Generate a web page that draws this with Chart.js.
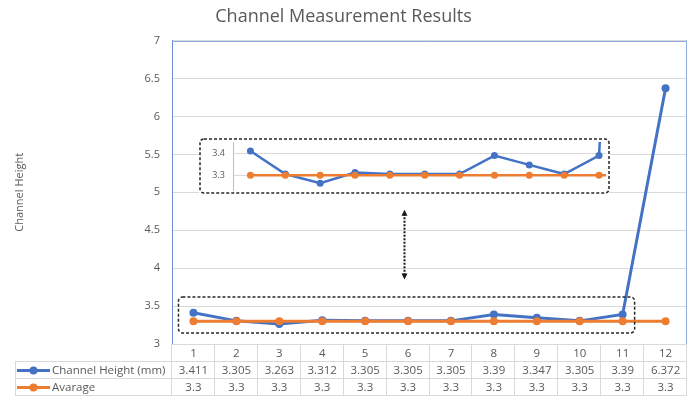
<!DOCTYPE html>
<html>
<head>
<meta charset="utf-8">
<script src="https://cdn.jsdelivr.net/npm/chart.js@4/dist/chart.umd.min.js"></script>
<style>
  html, body { margin: 0; padding: 0; background: #fff; }
  #wrap { position: relative; width: 693px; height: 396px; overflow: hidden; }
  #main { position: absolute; left: 0; top: 0; }
  #zoom { position: absolute; left: 199px; top: 138px; }
</style>
</head>
<body>
<div id="wrap">
  <canvas id="main" width="693" height="396"></canvas>
  <canvas id="zoom" width="411" height="56"></canvas>
</div>
<script>
// Measurement data
const categories = ['1', '2', '3', '4', '5', '6', '7', '8', '9', '10', '11', '12'];
const channelHeight = [3.411, 3.305, 3.263, 3.312, 3.305, 3.305, 3.305, 3.39, 3.347, 3.305, 3.39, 6.372];
const average = [3.3, 3.3, 3.3, 3.3, 3.3, 3.3, 3.3, 3.3, 3.3, 3.3, 3.3, 3.3];
const seriesNames = ['Channel Height (mm)', 'Avarage'];
const chartTitle = 'Channel Measurement Results';
const yAxisTitle = 'Channel Height';
const yRange = { min: 3, max: 7, step: 0.5 };
const zoomRange = { min: 3.232, max: 3.452 };
const zoomTicks = [3.3, 3.4];

const BLUE = '#4472C4';
const ORANGE = '#ED7D31';
const TEXT = '#595959';
const GRID = '#D9D9D9';
const FONT = "'Open Sans', 'Liberation Sans', sans-serif";

Chart.defaults.font.family = FONT;
Chart.defaults.color = TEXT;

const plainNumber = v => String(+Number(v).toFixed(3));

// rounded dashed rectangle helper
function dashedBox(ctx, x0, y0, x1, y1, r) {
  ctx.save();
  ctx.strokeStyle = '#262626';
  ctx.lineWidth = 1.5;
  ctx.setLineDash([3, 2]);
  ctx.beginPath();
  ctx.roundRect(x0, y0, x1 - x0, y1 - y0, r);
  ctx.stroke();
  ctx.restore();
}

// Plot frame, highlight box and arrow on the main chart
const framePlugin = {
  id: 'frame',
  beforeDatasetsDraw(chart) {
    const { ctx, chartArea: a } = chart;
    ctx.save();
    ctx.strokeStyle = '#8FAADC';
    ctx.lineWidth = 1;
    ctx.beginPath();
    ctx.moveTo(a.left, Math.round(a.top) + 0.5);
    ctx.lineTo(a.right, Math.round(a.top) + 0.5);
    ctx.moveTo(Math.round(a.right) - 0.5, a.top);
    ctx.lineTo(Math.round(a.right) - 0.5, a.bottom);
    ctx.stroke();
    ctx.restore();
  },
  afterDatasetsDraw(chart) {
    const { ctx, scales: { x, y } } = chart;
    // box round the near-average section
    dashedBox(ctx, x.getPixelForValue(0) - 15, y.getPixelForValue(3.62),
              x.getPixelForValue(10) + 12, y.getPixelForValue(3.145), 4);
    // double arrow linking the box to the magnified view
    const ax = Math.round(x.getPixelForValue(4.9)) + 0.5;
    const top = y.getPixelForValue(4.77);
    const bot = y.getPixelForValue(3.85);
    ctx.save();
    ctx.strokeStyle = '#1a1a1a';
    ctx.fillStyle = '#1a1a1a';
    ctx.lineWidth = 2;
    ctx.setLineDash([2, 1.5]);
    ctx.beginPath();
    ctx.moveTo(ax, top + 4);
    ctx.lineTo(ax, bot - 4);
    ctx.stroke();
    ctx.setLineDash([]);
    ctx.beginPath();
    ctx.moveTo(ax, top); ctx.lineTo(ax - 3, top + 6); ctx.lineTo(ax + 3, top + 6); ctx.closePath();
    ctx.moveTo(ax, bot); ctx.lineTo(ax - 3, bot - 6); ctx.lineTo(ax + 3, bot - 6); ctx.closePath();
    ctx.fill();
    ctx.restore();
  }
};

// Data table under the plot with series keys
const tablePlugin = {
  id: 'dataTable',
  afterDraw(chart) {
    const { ctx, chartArea: a } = chart;
    const rowH = 17;
    const top = Math.round(a.bottom);
    const labelLeft = 15;
    const colW = (a.right - a.left) / categories.length;
    ctx.save();
    ctx.strokeStyle = GRID;
    ctx.lineWidth = 1;
    ctx.beginPath();
    ctx.moveTo(a.left, top + 0.5);
    ctx.lineTo(a.right, top + 0.5);
    for (let r = 1; r <= 3; r++) {
      const yy = top + r * rowH + 0.5;
      ctx.moveTo(labelLeft, yy);
      ctx.lineTo(a.right, yy);
    }
    for (let i = 0; i <= categories.length; i++) {
      const xx = Math.round(a.left + i * colW) - 0.5;
      ctx.moveTo(xx, top);
      ctx.lineTo(xx, top + 3 * rowH);
    }
    ctx.moveTo(labelLeft + 0.5, top + rowH);
    ctx.lineTo(labelLeft + 0.5, top + 3 * rowH);
    ctx.stroke();

    ctx.font = '11.5px ' + FONT;
    ctx.fillStyle = TEXT;
    ctx.textAlign = 'center';
    ctx.textBaseline = 'middle';
    const rows = [categories, channelHeight, average];
    rows.forEach((row, r) => {
      const cy = top + r * rowH + rowH / 2 + 1;
      row.forEach((v, i) => {
        ctx.fillText(String(v), a.left + (i + 0.5) * colW, cy);
      });
    });

    // series keys
    [BLUE, ORANGE].forEach((c, k) => {
      const cy = top + (k + 1) * rowH + rowH / 2 + 1;
      ctx.strokeStyle = c;
      ctx.fillStyle = c;
      ctx.lineWidth = 3;
      ctx.beginPath();
      ctx.moveTo(17, cy);
      ctx.lineTo(50, cy);
      ctx.stroke();
      ctx.beginPath();
      ctx.arc(33.5, cy, 4, 0, Math.PI * 2);
      ctx.fill();
      ctx.fillStyle = TEXT;
      ctx.textAlign = 'left';
      ctx.fillText(seriesNames[k], 52, cy);
    });
    ctx.restore();
  }
};

new Chart(document.getElementById('main'), {
  type: 'line',
  data: {
    labels: categories,
    datasets: [
      { label: seriesNames[0], data: channelHeight, borderColor: BLUE, backgroundColor: BLUE,
        borderWidth: 3, pointRadius: 4, pointBorderWidth: 0, pointBackgroundColor: BLUE, order: 1 },
      { label: seriesNames[1], data: average, borderColor: ORANGE, backgroundColor: ORANGE,
        borderWidth: 3, pointRadius: 4, pointBorderWidth: 0, pointBackgroundColor: ORANGE, order: 0 }
    ]
  },
  options: {
    responsive: false,
    devicePixelRatio: 1,
    animation: false,
    layout: { padding: { left: 0, right: 6, top: 0, bottom: 0 } },
    plugins: {
      legend: { display: false },
      tooltip: { enabled: false },
      title: {
        display: true, text: chartTitle, color: TEXT,
        font: { size: 18, weight: 'normal' }, padding: { top: 6, bottom: 13 }
      }
    },
    scales: {
      x: {
        type: 'category', offset: true,
        grid: { display: false }, border: { display: false },
        ticks: { display: false },
        afterFit: s => { s.height = 52; }
      },
      y: {
        min: yRange.min, max: yRange.max,
        ticks: { stepSize: yRange.step, padding: 12, color: TEXT, font: { size: 11 }, callback: plainNumber },
        grid: { color: GRID, drawTicks: false },
        border: { color: '#6A8FD6', width: 1 },
        title: { display: true, text: yAxisTitle, color: TEXT, font: { size: 11 }, padding: { top: 13, bottom: 0 } },
        afterFit: s => { s.width = 172; }
      }
    }
  },
  plugins: [framePlugin, tablePlugin]
});

// Magnified view of the near-average section
const zoomFrame = {
  id: 'zoomFrame',
  beforeDraw(chart) {
    const { ctx, width, height } = chart;
    ctx.save();
    ctx.fillStyle = '#fff';
    ctx.fillRect(0, 0, width, height);
    ctx.restore();
  },
  afterDraw(chart) {
    dashedBox(chart.ctx, 1, 1, chart.width - 1, chart.height - 1, 4);
  }
};

new Chart(document.getElementById('zoom'), {
  type: 'line',
  data: {
    datasets: [
      { data: categories.map((c, i) => ({ x: +c, y: channelHeight[i] })), borderColor: BLUE,
        borderWidth: 2.5, pointRadius: 3.5, pointBorderWidth: 0, pointBackgroundColor: BLUE, order: 1 },
      { data: categories.map((c, i) => ({ x: +c, y: average[i] })), borderColor: ORANGE,
        borderWidth: 2.5, pointRadius: 3.5, pointBorderWidth: 0, pointBackgroundColor: ORANGE, order: 0 }
    ]
  },
  options: {
    responsive: false,
    devicePixelRatio: 1,
    animation: false,
    layout: { padding: { left: 0, right: 3, top: 0, bottom: 1 } },
    plugins: { legend: { display: false }, tooltip: { enabled: false }, title: { display: false } },
    scales: {
      x: { type: 'linear', min: 0.5, max: 11.2, display: false },
      y: {
        min: zoomRange.min, max: zoomRange.max, bounds: 'data',
        ticks: { padding: 8, color: TEXT, font: { size: 9 }, callback: plainNumber },
        afterBuildTicks: s => { s.ticks = zoomTicks.map(v => ({ value: v })); },
        grid: { color: GRID, drawTicks: false },
        border: { color: '#BFBFBF', width: 1 },
        afterFit: s => { s.width = 34; s.paddingTop = 0; s.paddingBottom = 0; }
      }
    }
  },
  plugins: [zoomFrame]
});
</script>
</body>
</html>
